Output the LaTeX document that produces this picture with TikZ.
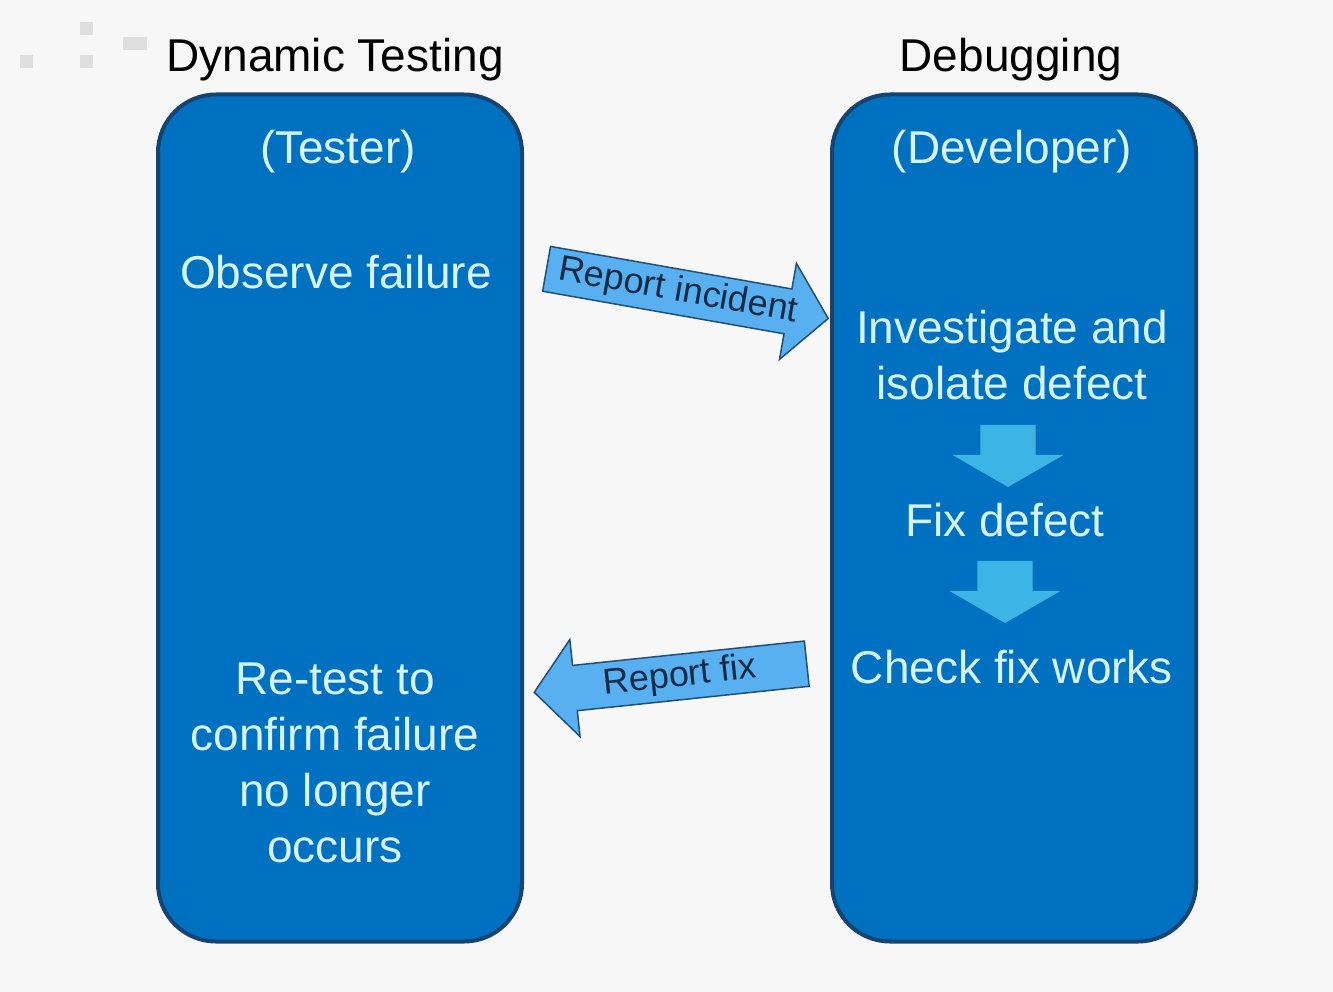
\documentclass[tikz,border=0pt]{standalone}
\usepackage{fontspec}
\setmainfont{Liberation Sans}
\usetikzlibrary{shapes.arrows,calc}
\definecolor{pagebg}{RGB}{247,247,247}
\definecolor{boxblue}{RGB}{0,112,192}
\definecolor{boxedge}{RGB}{22,68,112}
\definecolor{boxtext}{RGB}{214,244,255}
\definecolor{flowfill}{RGB}{88,176,240}
\definecolor{flowedge}{RGB}{30,80,120}
\definecolor{flowtext}{RGB}{14,44,72}
\definecolor{stepfill}{RGB}{60,180,230}
\definecolor{speck}{RGB}{222,222,222}

\begin{document}
\begin{tikzpicture}[x=1pt,y=-1pt,
  lane/.style={draw=boxedge, line width=4pt, fill=boxblue, rounded corners=58pt,
    minimum width=364pt, minimum height=847pt, inner sep=0pt},
  heading/.style={font=\fontsize{46}{55}\selectfont, text=black, inner sep=0pt},
  lanetext/.style={font=\fontsize{46}{56}\selectfont, text=boxtext, align=center, inner sep=0pt},
  handoff/.style={single arrow, draw=flowedge, line width=1.5pt, fill=flowfill,
    font=\fontsize{36}{40}\selectfont, text=flowtext, text height=25pt, text depth=7pt,
    inner ysep=6pt, inner xsep=2pt, single arrow head extend=26pt, single arrow tip angle=100},
  substep/.style={single arrow, fill=stepfill, text height=55pt, text depth=0pt, text width=0pt,
    inner sep=0pt, minimum height=62pt, single arrow head extend=28pt,
    single arrow tip angle=120, rotate=-90}
]
% page
\fill[pagebg] (0,0) rectangle (1333,992);
\useasboundingbox (0,0) rectangle (1333,992);

% faint specks in the upper left corner
\fill[speck] (80,22) rectangle (93,35);
\fill[speck] (80,55) rectangle (93,68);
\fill[speck] (20,55) rectangle (33,68);
\fill[speck] (123,37) rectangle (147,50);

% headings
\node[heading] (htest) at (335,60) {Dynamic Testing};
\node[heading] (hdebug) at (1011,60) {Debugging};

% swim lanes
\node[lane] (tester) at (340,518) {};
\node[lane] (developer) at (1014,518) {};

% tester lane
\node[lanetext] (who1) at (338,152) {(Tester)};
\node[lanetext] (observe) at (336,272) {Observe failure};
\node[lanetext] (retest) at (335,763) {Re-test to\\confirm failure\\no longer\\occurs};

% developer lane
\node[lanetext] (who2) at (1012,152) {(Developer)};
\node[lanetext] (investigate) at (1012,355) {Investigate and\\isolate defect};
\node[lanetext] (fixdef) at (1005,520) {Fix defect};
\node[lanetext] (check) at (1012,667) {Check fix works};

% steps inside the developer lane
\node[substep] (s1) at (1008,448) {};
\node[substep] (s2) at (1005,584) {};

% hand-offs between the lanes
\node[handoff, rotate=-10, minimum height=286pt] (incident) at (678,292) {Report incident};
\node[handoff, rotate=6, shape border rotate=180, minimum height=274pt] (reportfix) at (680,677) {Report fix};
\end{tikzpicture}
\end{document}
